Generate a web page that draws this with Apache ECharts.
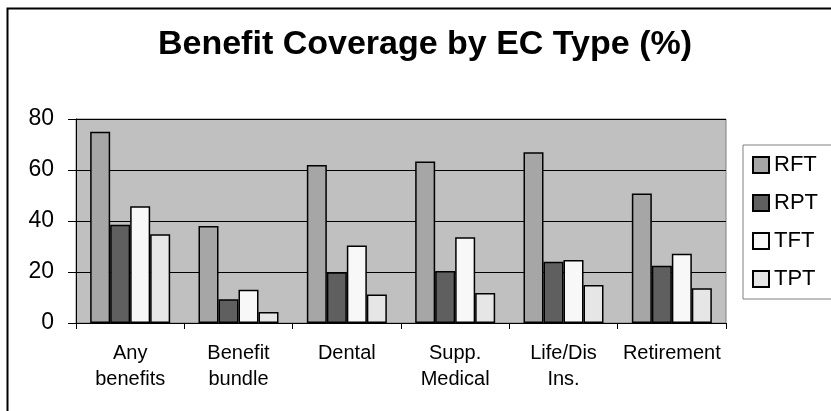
<!DOCTYPE html>
<html>
<head>
<meta charset="utf-8">
<script src="https://cdn.jsdelivr.net/npm/echarts@6/dist/echarts.min.js"></script>
<style>
html,body{margin:0;padding:0;background:#fff;}
#c{width:831px;height:411px;}
</style>
</head>
<body>
<div id="c"></div>
<script>
var titleText = 'Benefit Coverage by EC Type (%)';
var categories = ['Any\nbenefits', 'Benefit\nbundle', 'Dental', 'Supp.\nMedical', 'Life/Dis\nIns.', 'Retirement'];
var seriesNames = ['RFT', 'RPT', 'TFT', 'TPT'];
var rft = [75, 38, 62, 63.3, 67, 50.8];
var rpt = [38.5, 9.3, 19.9, 20.4, 24, 22.5];
var tft = [45.8, 13, 30.4, 33.6, 24.7, 27.2];
var tpt = [34.8, 4.3, 11.2, 11.8, 14.9, 13.6];
var yTicks = [0, 20, 40, 60, 80];

var colors = ['#a6a6a6', '#5f5f5f', '#f8f8f8', '#e6e6e6'];
var values = [rft, rpt, tft, tpt];
var FONT = 'Liberation Sans, Arial, sans-serif';

var chart = echarts.init(document.getElementById('c'));
var series = seriesNames.map(function (n, i) {
  return {
    name: n,
    type: 'bar',
    data: values[i],
    barWidth: 20,
    barGap: '0%',
    itemStyle: { color: colors[i], borderColor: '#000', borderWidth: 1.5 },
    emphasis: { disabled: true }
  };
});

chart.setOption({
  animation: false,
  backgroundColor: '#fff',
  title: {
    text: titleText,
    left: 420,
    top: 23,
    textAlign: 'center',
    textStyle: { fontFamily: FONT, fontSize: 34, fontWeight: 'bold', color: '#000' }
  },
  legend: {
    orient: 'vertical',
    left: 743,
    top: 145,
    padding: [9, 20, 9, 9],
    itemGap: 16,
    itemWidth: 16,
    itemHeight: 16,
    icon: 'rect',
    backgroundColor: '#fff',
    borderColor: '#808080',
    borderWidth: 1,
    borderRadius: 0,
    textStyle: { fontFamily: FONT, fontSize: 22, lineHeight: 22, color: '#000' },
    data: seriesNames
  },
  grid: {
    left: 76, right: 105, top: 119, bottom: 88,
    show: true,
    backgroundColor: '#c0c0c0',
    borderColor: '#808080',
    borderWidth: 1
  },
  xAxis: {
    type: 'category',
    data: categories,
    axisLine: { lineStyle: { color: '#000', width: 1 } },
    axisTick: { show: true, length: 6, lineStyle: { color: '#000' } },
    axisLabel: {
      margin: 17,
      fontFamily: FONT, fontSize: 20, lineHeight: 26, color: '#000',
      interval: 0
    }
  },
  yAxis: {
    type: 'value',
    min: yTicks[0],
    max: yTicks[yTicks.length - 1],
    interval: yTicks[1] - yTicks[0],
    axisLine: { show: true, lineStyle: { color: '#000', width: 1 } },
    axisTick: { show: true, length: 8, lineStyle: { color: '#000' } },
    axisLabel: { margin: 22, fontFamily: FONT, fontSize: 23, color: '#000' },
    splitLine: { show: true, lineStyle: { color: '#000', width: 1 } }
  },
  graphic: [{
    type: 'rect',
    left: 5, top: 6,
    shape: { width: 900, height: 500 },
    style: { fill: 'none', stroke: '#000', lineWidth: 2 },
    silent: true,
    z: 100
  }],
  series: series
});
</script>
</body>
</html>
